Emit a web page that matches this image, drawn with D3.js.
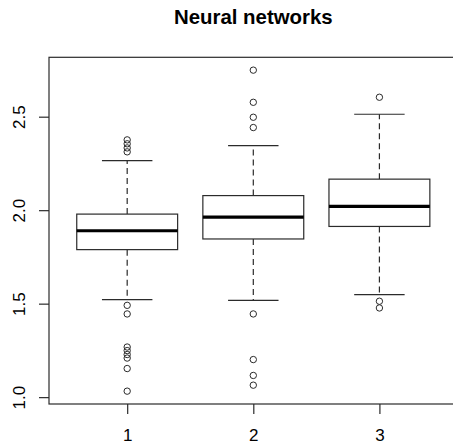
<!DOCTYPE html>
<html>
<head>
<meta charset="utf-8">
<script src="https://cdn.jsdelivr.net/npm/d3@7"></script>
<style>
  body { margin: 0; background: #fff; }
  svg { display: block; font-family: "Liberation Sans", Arial, sans-serif; }
</style>
</head>
<body>
<script>
// Box-plot summaries for the three neural network configurations
const groups = [1, 2, 3];
const lowerWhisker  = [1.522, 1.518, 1.548];
const lowerQuartile = [1.789, 1.846, 1.913];
const medians       = [1.890, 1.963, 2.020];
const upperQuartile = [1.979, 2.078, 2.166];
const upperWhisker  = [2.265, 2.345, 2.513];

// Points beyond the whiskers
const outliers1 = [2.376, 2.355, 2.333, 2.312, 1.491, 1.445, 1.268, 1.249, 1.228, 1.209, 1.153, 1.032];
const outliers2 = [2.749, 2.577, 2.497, 2.442, 1.445, 1.201, 1.116, 1.064];
const outliers3 = [2.604, 1.513, 1.477];

const yTicks = [1.0, 1.5, 2.0, 2.5];
const xTickLabels = ["1", "2", "3"];
const title = "Neural networks";

const W = 453, H = 444;
const plot = { left: 49, top: 57.3, right: 457.6, bottom: 404 };

const svg = d3.select("body").append("svg")
  .attr("width", W).attr("height", H);

// Value range padded by 4% on each side
const allVals = [].concat(lowerWhisker, upperWhisker, outliers1, outliers2, outliers3);
const lo = d3.min(allVals), hi = d3.max(allVals);
const pad = (hi - lo) * 0.04;

const y = d3.scaleLinear().domain([lo - pad, hi + pad]).range([plot.bottom, plot.top]);
const x = d3.scaleLinear().domain([0.38, 3.62]).range([plot.left, plot.right]);

const boxHalf = (x(1.4) - x(1)) ;        // half of 0.8 group width
const capHalf = boxHalf / 2;

const lineCol = "#2b2b2b";

const boxes = groups.map((g, i) => ({
  g, lw: lowerWhisker[i], q1: lowerQuartile[i], med: medians[i],
  q3: upperQuartile[i], uw: upperWhisker[i],
  out: [outliers1, outliers2, outliers3][i]
}));

const gBox = svg.append("g");
boxes.forEach(b => {
  const cx = x(b.g);
  const grp = gBox.append("g");
  // dashed whiskers
  grp.append("line").attr("x1", cx).attr("x2", cx)
    .attr("y1", y(b.q3)).attr("y2", y(b.uw))
    .attr("stroke", lineCol).attr("stroke-width", 1.2).attr("stroke-dasharray", "6,4");
  grp.append("line").attr("x1", cx).attr("x2", cx)
    .attr("y1", y(b.q1)).attr("y2", y(b.lw))
    .attr("stroke", lineCol).attr("stroke-width", 1.2).attr("stroke-dasharray", "6,4");
  // whisker caps
  [b.uw, b.lw].forEach(v => {
    grp.append("line").attr("x1", cx - capHalf).attr("x2", cx + capHalf)
      .attr("y1", y(v)).attr("y2", y(v))
      .attr("stroke", lineCol).attr("stroke-width", 1.2);
  });
  // box
  grp.append("rect")
    .attr("x", cx - boxHalf).attr("width", 2 * boxHalf)
    .attr("y", y(b.q3)).attr("height", y(b.q1) - y(b.q3))
    .attr("fill", "#fff").attr("stroke", lineCol).attr("stroke-width", 1.2);
  // median
  grp.append("line").attr("x1", cx - boxHalf).attr("x2", cx + boxHalf)
    .attr("y1", y(b.med)).attr("y2", y(b.med))
    .attr("stroke", "#000").attr("stroke-width", 3.2);
  // outliers
  grp.selectAll("circle").data(b.out).join("circle")
    .attr("cx", cx).attr("cy", d => y(d)).attr("r", 3.2)
    .attr("fill", "none").attr("stroke", lineCol).attr("stroke-width", 1);
});

// plot frame
svg.append("rect")
  .attr("x", plot.left).attr("y", plot.top)
  .attr("width", plot.right - plot.left).attr("height", plot.bottom - plot.top)
  .attr("fill", "none").attr("stroke", lineCol).attr("stroke-width", 1.2);

// y axis
const yAxis = svg.append("g")
  .attr("transform", `translate(${plot.left},0)`)
  .call(d3.axisLeft(y).tickValues(yTicks).tickFormat(d3.format(".1f"))
    .tickSize(10).tickSizeOuter(0).tickPadding(0));
yAxis.select(".domain").remove();
yAxis.selectAll(".tick line").attr("stroke", lineCol).attr("stroke-width", 1.2);
yAxis.selectAll(".tick text")
  .attr("x", null).attr("dy", null)
  .attr("transform", "translate(-24,0) rotate(-90)")
  .attr("text-anchor", "middle")
  .attr("font-size", 17).attr("fill", "#000");

// x axis
const xAxis = svg.append("g")
  .attr("transform", `translate(0,${plot.bottom})`)
  .call(d3.axisBottom(x).tickValues(groups).tickFormat((d, i) => xTickLabels[i])
    .tickSize(10).tickSizeOuter(0).tickPadding(0));
xAxis.select(".domain").remove();
xAxis.selectAll(".tick line").attr("stroke", lineCol).attr("stroke-width", 1.2);
xAxis.selectAll(".tick text")
  .attr("y", 37).attr("dy", null)
  .attr("font-size", 17).attr("fill", "#000");

// title
svg.append("text")
  .attr("x", (plot.left + plot.right) / 2).attr("y", 23.5)
  .attr("text-anchor", "middle")
  .attr("font-size", 20.4).attr("font-weight", "bold").attr("fill", "#000")
  .text(title);
</script>
</body>
</html>
